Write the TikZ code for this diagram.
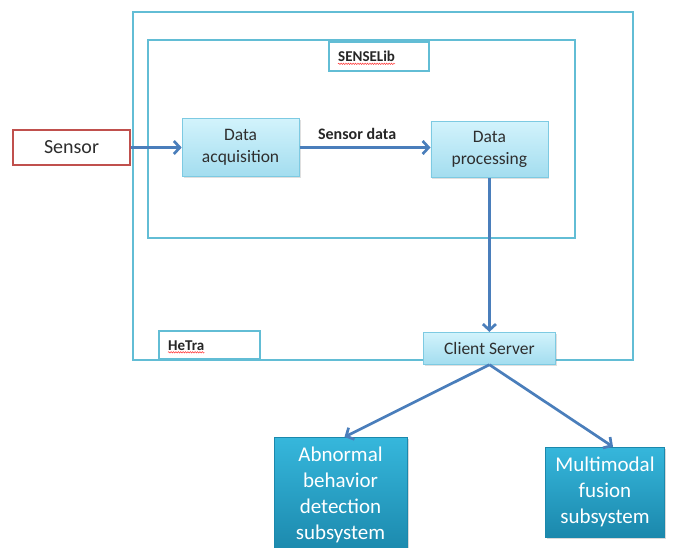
\documentclass[tikz,border=0pt]{standalone}
\usepackage{fontspec}
\setmainfont{Carlito}
\usepackage{xcolor}
\usetikzlibrary{arrows.meta, positioning, shadows, decorations.pathmorphing}
\definecolor{framecyan}{HTML}{62BDD5}
\definecolor{arrowblue}{HTML}{4A7EBB}
\definecolor{sensorred}{HTML}{C0504D}
\definecolor{textgray}{HTML}{2E2E2E}
\definecolor{lighttop}{HTML}{D2F3FC}
\definecolor{lightbottom}{HTML}{A3DDEF}
\definecolor{lightedge}{HTML}{7DCAE2}
\definecolor{darktop}{HTML}{36B7DC}
\definecolor{darkbottom}{HTML}{1B88AC}
\tikzstyle{frame} = [draw=framecyan, line width=1.8pt]
\tikzstyle{tagbox} = [rectangle, draw=framecyan, line width=1.6pt, fill=white, inner sep=0pt]
\tikzstyle{tagtext} = [inner sep=0pt, font=\fontsize{15}{18}\selectfont\bfseries, text=black!85]
\tikzstyle{squiggle} = [draw=red!80, line width=0.5pt, decorate, decoration={snake, amplitude=0.7pt, segment length=2.4pt}]
\tikzstyle{sensorbox} = [rectangle, draw=sensorred, line width=1.4pt, fill=white, minimum width=117pt, minimum height=35pt, text=textgray, font=\fontsize{20}{24}\selectfont]
\tikzstyle{lightbox} = [rectangle, draw=lightedge, line width=0.8pt, top color=lighttop, bottom color=lightbottom, drop shadow={shadow xshift=1.5pt, shadow yshift=-1.5pt, opacity=0.25}, minimum width=117pt, text=textgray, align=center, font=\fontsize{17.5}{22}\selectfont]
\tikzstyle{darkbox} = [rectangle, draw=darkbottom, line width=0.4pt, top color=darktop, bottom color=darkbottom, drop shadow={shadow xshift=1.5pt, shadow yshift=-1.5pt, opacity=0.3}, text=white, align=center, font=\fontsize{21}{26}\selectfont]
\tikzstyle{arrow} = [draw=arrowblue, line width=2.7pt, -{Straight Barb[length=6pt, width=13pt]}]

\begin{document}
\begin{tikzpicture}[x=1pt, y=-1pt]
\useasboundingbox (0,0) rectangle (678,548);

% Frames
\draw[frame] (133,12) rectangle (633,360);
\draw[frame] (148,40) rectangle (575,238);
\node (senselibtag) [tagbox, minimum width=100pt, minimum height=29pt, anchor=north west] at (328,41) {};
\node (senselibname) [tagtext, right=10pt of senselibtag.west] {SENSELib};
\draw[squiggle] ([yshift=-2pt]senselibname.south west) -- ([yshift=-2pt]senselibname.south east);
\node (hetratag) [tagbox, minimum width=101pt, minimum height=28pt, anchor=south west] at (158,360) {};
\node (hetraname) [tagtext, right=10pt of hetratag.west] {HeTra};
\draw[squiggle] ([yshift=-2pt]hetraname.south west) -- ([yshift=-2pt]hetraname.south east);

% Main blocks
\node (sensor) [sensorbox] at (71.5,147.5) {Sensor};
\node (acq) [lightbox, minimum height=58pt, right=51pt of sensor] {Data\\acquisition};
\node (proc) [lightbox, minimum height=56pt, right=131pt of acq, yshift=-2pt] {Data\\processing};
\node (client) [lightbox, minimum width=132pt, minimum height=32pt, below=154pt of proc] {Client Server};
\node (abnormal) [darkbox, minimum width=133pt, minimum height=116pt, anchor=north] at (340.5,437) {Abnormal\\behavior\\detection\\subsystem};
\node (multimodal) [darkbox, minimum width=119pt, minimum height=90pt] at (605,492) {Multimodal\\fusion\\subsystem};

% Arrows
\draw [arrow] (sensor.east) -- (acq.west |- sensor.east);
\draw [arrow] (acq) -- node[pos=0.44, above=3pt, text=black!85, font=\fontsize{16}{19}\selectfont\bfseries] {Sensor data} (proc.west |- acq);
\draw [arrow] (proc) -- (client);
\draw [arrow] (client.south) -- ([xshift=4pt]abnormal.north);
\draw [arrow] (client.south) -- ([xshift=8pt]multimodal.north);

\end{tikzpicture}
\end{document}
